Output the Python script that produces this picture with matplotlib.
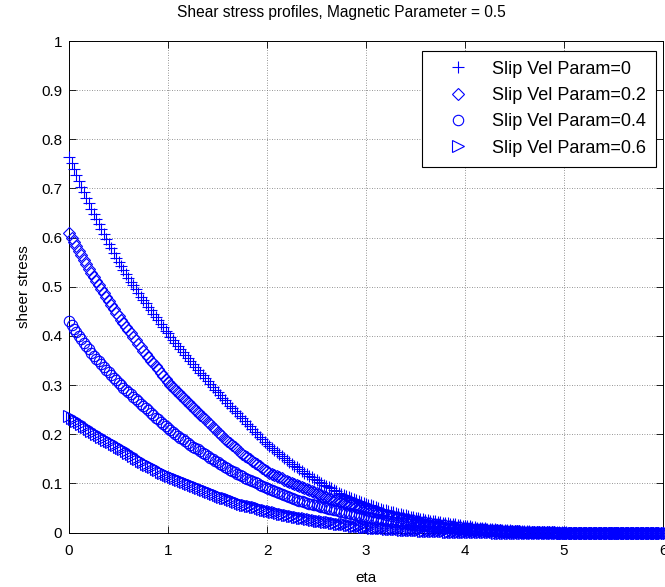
import numpy as np
import matplotlib
matplotlib.use('Agg')
import matplotlib.pyplot as plt

# Fonte parecida com a Helvetica do MATLAB
plt.rcParams['font.family'] = ['Liberation Sans', 'DejaVu Sans']

# ---- Dados ----
# eta vai de 0 a 6 (grade de amostragem, passo 0.025)
eta = np.linspace(0, 6, 241)

# Tensao de cisalhamento para cada parametro de velocidade de deslizamento
# (cada linha = meio intervalo de eta, 20 valores)
stress_s00 = [
    0.765, 0.752, 0.740, 0.728, 0.716, 0.704, 0.693, 0.681, 0.670, 0.659,
    0.648, 0.638, 0.628, 0.618, 0.608, 0.598, 0.588, 0.578, 0.569, 0.559,
    0.550, 0.542, 0.534, 0.526, 0.518, 0.510, 0.503, 0.495, 0.488, 0.480,
    0.473, 0.466, 0.459, 0.452, 0.445, 0.438, 0.432, 0.425, 0.418, 0.411,
    0.405, 0.398, 0.392, 0.386, 0.380, 0.373, 0.367, 0.361, 0.355, 0.349,
    0.343, 0.337, 0.331, 0.325, 0.320, 0.314, 0.308, 0.302, 0.297, 0.291,
    0.285, 0.279, 0.274, 0.269, 0.264, 0.258, 0.253, 0.248, 0.243, 0.237,
    0.232, 0.226, 0.221, 0.216, 0.211, 0.205, 0.200, 0.195, 0.190, 0.185,
    0.180, 0.176, 0.172, 0.168, 0.164, 0.160, 0.156, 0.152, 0.148, 0.144,
    0.140, 0.136, 0.133, 0.129, 0.126, 0.122, 0.119, 0.115, 0.112, 0.109,
    0.106, 0.103, 0.100, 0.097, 0.095, 0.092, 0.090, 0.087, 0.084, 0.081,
    0.079, 0.077, 0.075, 0.073, 0.071, 0.069, 0.067, 0.065, 0.063, 0.061,
    0.059, 0.057, 0.055, 0.053, 0.052, 0.050, 0.048, 0.046, 0.045, 0.043,
    0.042, 0.041, 0.040, 0.038, 0.037, 0.036, 0.035, 0.033, 0.032, 0.031,
    0.030, 0.029, 0.028, 0.027, 0.026, 0.025, 0.024, 0.023, 0.023, 0.022,
    0.021, 0.020, 0.020, 0.019, 0.018, 0.017, 0.017, 0.016, 0.015, 0.014,
    0.014, 0.013, 0.013, 0.012, 0.011, 0.010, 0.010, 0.009, 0.009, 0.008,
    0.008, 0.007, 0.007, 0.006, 0.006, 0.005, 0.005, 0.005, 0.005, 0.004,
    0.004, 0.004, 0.004, 0.003, 0.003, 0.003, 0.003, 0.002, 0.002, 0.002,
    0.002, 0.002, 0.002, 0.001, 0.001, 0.001, 0.001, 0.001, 0.001, 0.001,
    0.001, 0.001, 0.0, 0.0, 0.0, 0.0, 0.0, 0.0, 0.0, 0.0,
    0.0, 0.0, 0.0, 0.0, 0.0, 0.0, 0.0, 0.0, 0.0, 0.0,
    0.0, 0.0, 0.0, 0.0, 0.0, 0.0, 0.0, 0.0, 0.0, 0.0,
    0.0, 0.0, 0.0, 0.0, 0.0, 0.0, 0.0, 0.0, 0.0, 0.0,
    0.0,
]
stress_s02 = [
    0.610, 0.600, 0.591, 0.582, 0.573, 0.564, 0.555, 0.546, 0.537, 0.528,
    0.520, 0.511, 0.503, 0.495, 0.487, 0.479, 0.471, 0.463, 0.455, 0.447,
    0.440, 0.433, 0.426, 0.419, 0.412, 0.405, 0.398, 0.391, 0.384, 0.377,
    0.370, 0.363, 0.357, 0.350, 0.344, 0.338, 0.332, 0.325, 0.319, 0.313,
    0.307, 0.301, 0.296, 0.291, 0.286, 0.280, 0.275, 0.270, 0.265, 0.260,
    0.255, 0.250, 0.245, 0.240, 0.235, 0.230, 0.225, 0.220, 0.215, 0.210,
    0.205, 0.200, 0.196, 0.191, 0.187, 0.182, 0.178, 0.173, 0.169, 0.164,
    0.160, 0.156, 0.153, 0.149, 0.146, 0.142, 0.139, 0.135, 0.132, 0.128,
    0.125, 0.122, 0.120, 0.117, 0.115, 0.112, 0.110, 0.107, 0.105, 0.102,
    0.100, 0.098, 0.096, 0.094, 0.092, 0.090, 0.088, 0.086, 0.084, 0.082,
    0.080, 0.078, 0.076, 0.074, 0.073, 0.071, 0.069, 0.067, 0.066, 0.064,
    0.062, 0.060, 0.059, 0.057, 0.056, 0.054, 0.052, 0.050, 0.049, 0.047,
    0.046, 0.045, 0.044, 0.042, 0.041, 0.040, 0.039, 0.037, 0.036, 0.035,
    0.034, 0.033, 0.032, 0.031, 0.030, 0.029, 0.028, 0.027, 0.026, 0.025,
    0.024, 0.023, 0.022, 0.021, 0.021, 0.020, 0.019, 0.018, 0.018, 0.017,
    0.016, 0.015, 0.015, 0.014, 0.014, 0.013, 0.012, 0.011, 0.011, 0.010,
    0.010, 0.009, 0.009, 0.008, 0.008, 0.008, 0.008, 0.007, 0.007, 0.006,
    0.006, 0.005, 0.005, 0.005, 0.005, 0.004, 0.004, 0.004, 0.004, 0.003,
    0.003, 0.003, 0.003, 0.002, 0.002, 0.002, 0.002, 0.002, 0.002, 0.001,
    0.001, 0.001, 0.001, 0.001, 0.001, 0.001, 0.001, 0.0, 0.0, 0.0,
    0.0, 0.0, 0.0, 0.0, 0.0, 0.0, 0.0, 0.0, 0.0, 0.0,
    0.0, 0.0, 0.0, 0.0, 0.0, 0.0, 0.0, 0.0, 0.0, 0.0,
    0.0, 0.0, 0.0, 0.0, 0.0, 0.0, 0.0, 0.0, 0.0, 0.0,
    0.0, 0.0, 0.0, 0.0, 0.0, 0.0, 0.0, 0.0, 0.0, 0.0,
    0.0,
]
stress_s04 = [
    0.431, 0.423, 0.415, 0.407, 0.400, 0.393, 0.386, 0.379, 0.373, 0.366,
    0.360, 0.354, 0.348, 0.342, 0.337, 0.331, 0.326, 0.320, 0.315, 0.310,
    0.305, 0.300, 0.295, 0.290, 0.286, 0.281, 0.276, 0.271, 0.267, 0.262,
    0.258, 0.253, 0.249, 0.244, 0.239, 0.234, 0.230, 0.225, 0.221, 0.216,
    0.212, 0.208, 0.204, 0.200, 0.197, 0.193, 0.190, 0.186, 0.182, 0.178,
    0.175, 0.172, 0.169, 0.165, 0.162, 0.159, 0.156, 0.152, 0.149, 0.146,
    0.143, 0.140, 0.137, 0.134, 0.131, 0.128, 0.126, 0.123, 0.120, 0.117,
    0.114, 0.111, 0.109, 0.106, 0.104, 0.102, 0.100, 0.097, 0.095, 0.092,
    0.090, 0.088, 0.086, 0.084, 0.082, 0.080, 0.078, 0.076, 0.074, 0.072,
    0.070, 0.068, 0.067, 0.065, 0.064, 0.062, 0.061, 0.059, 0.058, 0.056,
    0.055, 0.053, 0.052, 0.051, 0.050, 0.048, 0.047, 0.046, 0.045, 0.043,
    0.042, 0.041, 0.040, 0.039, 0.038, 0.037, 0.036, 0.035, 0.034, 0.033,
    0.032, 0.031, 0.030, 0.029, 0.028, 0.027, 0.027, 0.026, 0.025, 0.024,
    0.023, 0.022, 0.022, 0.021, 0.020, 0.019, 0.019, 0.018, 0.017, 0.016,
    0.016, 0.015, 0.015, 0.014, 0.014, 0.013, 0.013, 0.012, 0.012, 0.011,
    0.011, 0.010, 0.010, 0.009, 0.009, 0.009, 0.009, 0.008, 0.008, 0.007,
    0.007, 0.006, 0.006, 0.006, 0.006, 0.005, 0.005, 0.005, 0.005, 0.004,
    0.004, 0.004, 0.004, 0.003, 0.003, 0.003, 0.003, 0.002, 0.002, 0.002,
    0.002, 0.002, 0.002, 0.002, 0.001, 0.001, 0.001, 0.001, 0.001, 0.001,
    0.001, 0.0, 0.0, 0.0, 0.0, 0.0, 0.0, 0.0, 0.0, 0.0,
    0.0, 0.0, 0.0, 0.0, 0.0, 0.0, 0.0, 0.0, 0.0, 0.0,
    0.0, 0.0, 0.0, 0.0, 0.0, 0.0, 0.0, 0.0, 0.0, 0.0,
    0.0, 0.0, 0.0, 0.0, 0.0, 0.0, 0.0, 0.0, 0.0, 0.0,
    0.0, 0.0, 0.0, 0.0, 0.0, 0.0, 0.0, 0.0, 0.0, 0.0,
    0.0,
]
stress_s06 = [
    0.238, 0.234, 0.231, 0.227, 0.224, 0.220, 0.217, 0.214, 0.211, 0.207,
    0.204, 0.201, 0.198, 0.195, 0.192, 0.189, 0.187, 0.184, 0.181, 0.178,
    0.175, 0.172, 0.169, 0.165, 0.162, 0.159, 0.156, 0.152, 0.149, 0.146,
    0.143, 0.140, 0.138, 0.135, 0.133, 0.130, 0.127, 0.124, 0.122, 0.119,
    0.117, 0.115, 0.113, 0.111, 0.109, 0.107, 0.105, 0.103, 0.101, 0.099,
    0.097, 0.095, 0.093, 0.091, 0.089, 0.087, 0.085, 0.083, 0.081, 0.079,
    0.077, 0.075, 0.073, 0.071, 0.070, 0.068, 0.066, 0.064, 0.063, 0.061,
    0.059, 0.057, 0.056, 0.054, 0.053, 0.052, 0.051, 0.049, 0.048, 0.046,
    0.045, 0.044, 0.043, 0.042, 0.041, 0.039, 0.038, 0.037, 0.036, 0.035,
    0.034, 0.033, 0.032, 0.031, 0.030, 0.029, 0.029, 0.028, 0.027, 0.026,
    0.025, 0.024, 0.024, 0.023, 0.022, 0.021, 0.021, 0.020, 0.019, 0.018,
    0.018, 0.017, 0.017, 0.016, 0.015, 0.014, 0.014, 0.013, 0.013, 0.012,
    0.012, 0.011, 0.011, 0.010, 0.010, 0.010, 0.010, 0.009, 0.009, 0.008,
    0.008, 0.007, 0.007, 0.007, 0.007, 0.006, 0.006, 0.006, 0.006, 0.005,
    0.005, 0.005, 0.005, 0.004, 0.004, 0.004, 0.004, 0.003, 0.003, 0.003,
    0.003, 0.003, 0.003, 0.002, 0.002, 0.002, 0.002, 0.002, 0.002, 0.002,
    0.002, 0.002, 0.001, 0.001, 0.001, 0.001, 0.001, 0.001, 0.001, 0.001,
    0.001, 0.001, 0.001, 0.0, 0.0, 0.0, 0.0, 0.0, 0.0, 0.0,
    0.0, 0.0, 0.0, 0.0, 0.0, 0.0, 0.0, 0.0, 0.0, 0.0,
    0.0, 0.0, 0.0, 0.0, 0.0, 0.0, 0.0, 0.0, 0.0, 0.0,
    0.0, 0.0, 0.0, 0.0, 0.0, 0.0, 0.0, 0.0, 0.0, 0.0,
    0.0, 0.0, 0.0, 0.0, 0.0, 0.0, 0.0, 0.0, 0.0, 0.0,
    0.0, 0.0, 0.0, 0.0, 0.0, 0.0, 0.0, 0.0, 0.0, 0.0,
    0.0, 0.0, 0.0, 0.0, 0.0, 0.0, 0.0, 0.0, 0.0, 0.0,
    0.0,
]

labels = ['Slip Vel Param=0', 'Slip Vel Param=0.2',
          'Slip Vel Param=0.4', 'Slip Vel Param=0.6']
x_ticks = [0, 1, 2, 3, 4, 5, 6]
y_ticks = [0, 0.1, 0.2, 0.3, 0.4, 0.5, 0.6, 0.7, 0.8, 0.9, 1]
y_tick_labels = ['0', '0.1', '0.2', '0.3', '0.4', '0.5',
                 '0.6', '0.7', '0.8', '0.9', '1']

# ---- Figura ----
fig = plt.figure(figsize=(6.65, 5.87), dpi=100)
ax = fig.add_axes([0.1038, 0.0928, 0.8932, 0.8373])

blue = (0, 0, 1)
series = [
    (stress_s00, '+', 9.0),
    (stress_s02, 'D', 6.0),
    (stress_s04, 'o', 7.5),
    (stress_s06, '>', 8.5),
]
for (vals, mk, ms), lab in zip(series, labels):
    ax.plot(eta, vals, linestyle='none', marker=mk, markersize=ms,
            markerfacecolor='none', markeredgecolor=blue,
            markeredgewidth=0.8, label=lab, clip_on=False, zorder=3)

# ---- Eixos, grade e textos ----
ax.set_xlim(0, 6)
ax.set_ylim(0, 1)
ax.set_xticks(x_ticks)
ax.set_yticks(y_ticks)
ax.set_yticklabels(y_tick_labels)
ax.tick_params(direction='in', top=True, right=True, length=5, width=0.6,
               labelsize=11)
ax.tick_params(axis='y', pad=5)
ax.tick_params(axis='x', pad=8)
ax.grid(True, linestyle=(0, (1, 2)), color='0.45', linewidth=0.6)
ax.set_axisbelow(True)
for sp in ax.spines.values():
    sp.set_linewidth(0.7)

ax.set_xlabel('eta', fontsize=11, labelpad=9.5)
ax.set_ylabel('sheer stress', fontsize=11, labelpad=7.5)
fig.text(341 / 665, 1 - 12 / 587, 'Shear stress profiles, Magnetic Parameter = 0.5',
         fontsize=11.2, ha='center', va='center')

leg = ax.legend(loc='upper right', bbox_to_anchor=(0.988, 0.980),
                borderaxespad=0, fontsize=13, numpoints=1, fancybox=False,
                framealpha=1, edgecolor='black', borderpad=0.55,
                handlelength=2.95, handletextpad=0.39, labelspacing=0.515)
leg.get_frame().set_linewidth(0.8)

plt.savefig('out.png', dpi=100)
